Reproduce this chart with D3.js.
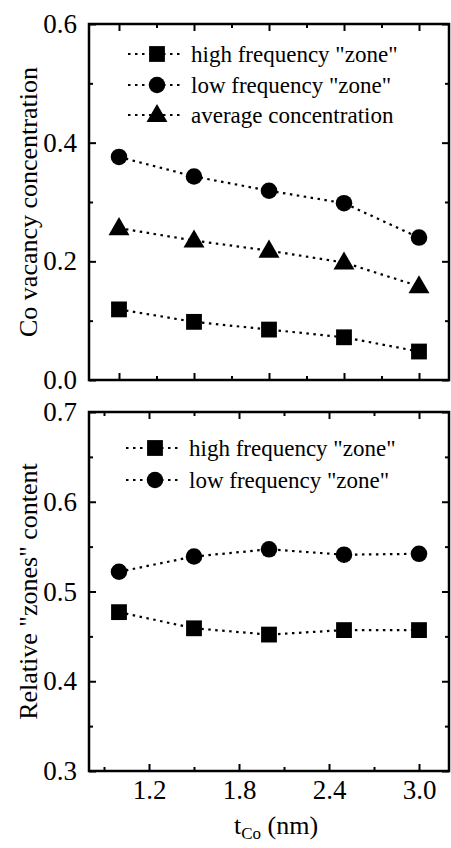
<!DOCTYPE html>
<html><head><meta charset="utf-8">
<script src="https://cdn.jsdelivr.net/npm/d3@7"></script>
<style>
@font-face { font-family: "ChartSerif"; src: local("Liberation Serif"), local("LiberationSerif"), local("Times New Roman"); }
svg text, svg tspan { font-family: "Liberation Serif", "ChartSerif", "Times New Roman", serif !important; }
</style>
</head>
<body style="margin:0">
<svg id="c" width="451" height="848" font-family="Liberation Serif, serif"></svg>
<script>
// ---- data ----
const thickness = [1.0, 1.5, 2.0, 2.5, 3.0];
const topHigh = [0.119, 0.098, 0.085, 0.072, 0.048];
const topLow = [0.376, 0.343, 0.319, 0.298, 0.240];
const topAvg = [0.256, 0.235, 0.218, 0.198, 0.158];
const botHigh = [0.477, 0.459, 0.452, 0.457, 0.457];
const botLow = [0.522, 0.539, 0.547, 0.541, 0.542];
const topYTicks = [0.0, 0.2, 0.4, 0.6];
const topYMinor = [0.1, 0.3, 0.5];
const botYTicks = [0.3, 0.4, 0.5, 0.6, 0.7];
const botYMinor = [0.35, 0.45, 0.55, 0.65];
const topXMajor = [1.0, 1.5, 2.0, 2.5, 3.0];
const topXMinor = [1.25, 1.75, 2.25, 2.75];
const botXTicks = [1.2, 1.8, 2.4, 3.0];
const botXMinor = [0.9, 1.5, 2.1, 2.7];
const legendTop = ['high frequency "zone"', 'low frequency "zone"', 'average concentration'];
const legendBot = ['high frequency "zone"', 'low frequency "zone"'];

const FONT = "'Liberation Serif', 'ChartSerif', 'Times New Roman', serif";
const svg = d3.select("#c");
const L = 89, R = 449;
const x = d3.scaleLinear().domain([0.8, 3.2]).range([L, R]);
const yTop = d3.scaleLinear().domain([0, 0.6]).range([380, 24]);
const yBot = d3.scaleLinear().domain([0.3, 0.7]).range([771, 412]);

function symbolFor(kind){
  if(kind==="square") return d3.symbol().type(d3.symbolSquare).size(250)();
  if(kind==="circle") return d3.symbol().type(d3.symbolCircle).size(215)();
  return d3.symbol().type(d3.symbolTriangle).size(190)();
}

function panel(y, yMajor, yMinor, xMajor, xMinor, showXLabels, yFmt){
  const g = svg.append("g");
  const [y0, y1] = y.range();
  const axB = d3.axisBottom(x).tickValues(xMajor).tickSize(-7).tickPadding(9).tickFormat(showXLabels ? d3.format(".1f") : () => "");
  const axBm = d3.axisBottom(x).tickValues(xMinor).tickSize(-4).tickFormat(() => "");
  const axT = d3.axisTop(x).tickValues(xMajor).tickSize(-7).tickFormat(() => "");
  const axTm = d3.axisTop(x).tickValues(xMinor).tickSize(-4).tickFormat(() => "");
  const axL = d3.axisLeft(y).tickValues(yMajor).tickSize(-7).tickPadding(12).tickFormat(yFmt);
  const axLm = d3.axisLeft(y).tickValues(yMinor).tickSize(-4).tickFormat(() => "");
  const axR = d3.axisRight(y).tickValues(yMajor).tickSize(-7).tickFormat(() => "");
  const axRm = d3.axisRight(y).tickValues(yMinor).tickSize(-4).tickFormat(() => "");
  const put = (ax, t) => {
    const a = g.append("g").attr("transform", t).call(ax);
    a.attr("font-family", "Liberation Serif").attr("font-size", 27);
    a.select(".domain").remove();
    a.selectAll("line").attr("stroke", "#000").attr("stroke-width", 2);
    a.selectAll("text").attr("fill", "#000").style("font-family", FONT, "important");
    return a;
  };
  put(axB, `translate(0,${y0})`); put(axBm, `translate(0,${y0})`);
  put(axT, `translate(0,${y1})`); put(axTm, `translate(0,${y1})`);
  put(axL, `translate(${L},0)`); put(axLm, `translate(${L},0)`);
  put(axR, `translate(${R},0)`); put(axRm, `translate(${R},0)`);
  g.append("rect").attr("x", L).attr("y", y1).attr("width", R - L).attr("height", y0 - y1)
    .attr("fill", "none").attr("stroke", "#000").attr("stroke-width", 2.5);
  return g;
}

function series(g, y, vals, kind){
  const line = d3.line().x((d, i) => x(thickness[i])).y(d => y(d));
  g.append("path").datum(vals).attr("d", line).attr("fill", "none")
    .attr("stroke", "#000").attr("stroke-width", 2.2).attr("stroke-dasharray", "2.5,4.5");
  g.selectAll(null).data(vals).enter().append("path")
    .attr("d", symbolFor(kind))
    .attr("transform", (d, i) => `translate(${x(thickness[i])},${y(d) + (kind === "triangle" ? 1 : 0)})`)
    .attr("fill", "#000");
}

function legend(g, items, kinds, x0, ys){
  items.forEach((t, i) => {
    const yy = ys[i];
    g.append("line").attr("x1", x0 - 29).attr("x2", x0 + 26).attr("y1", yy).attr("y2", yy)
      .attr("stroke", "#000").attr("stroke-width", 2.2).attr("stroke-dasharray", "2.5,4.5");
    g.append("path").attr("d", symbolFor(kinds[i])).attr("transform", `translate(${x0},${yy + (kinds[i]==="triangle"?1:0)})`).attr("fill", "#000");
    g.append("text").attr("x", x0 + 34).attr("y", yy + 8)
      .attr("font-family", "Liberation Serif").style("font-family", FONT, "important")
      .attr("font-size", 23).text(t);
  });
}

const fmt1 = d3.format(".1f");
const gTop = panel(yTop, topYTicks, topYMinor, topXMajor, topXMinor, false, fmt1);
series(gTop, yTop, topHigh, "square");
series(gTop, yTop, topLow, "circle");
series(gTop, yTop, topAvg, "triangle");
legend(gTop, legendTop, ["square", "circle", "triangle"], 157, [54, 85, 115]);

const gBot = panel(yBot, botYTicks, botYMinor, botXTicks, botXMinor, true, fmt1);
series(gBot, yBot, botHigh, "square");
series(gBot, yBot, botLow, "circle");
legend(gBot, legendBot, ["square", "circle"], 155, [448, 480]);

function title(sel){ return sel.attr("font-family", "Liberation Serif").style("font-family", FONT, "important").attr("font-size", 26); }
title(svg.append("text").attr("transform", `translate(37,${(24 + 380) / 2}) rotate(-90)`)
  .attr("text-anchor", "middle")).text("Co vacancy concentration");
title(svg.append("text").attr("transform", `translate(37,${(412 + 771) / 2}) rotate(-90)`)
  .attr("text-anchor", "middle")).text('Relative "zones" content');
const xt = title(svg.append("text").attr("x", 276).attr("y", 834).attr("text-anchor", "middle"));
xt.append("tspan").text("t");
xt.append("tspan").attr("dy", 5).attr("font-size", 17).text("Co");
xt.append("tspan").attr("dy", -5).text(" (nm)");
</script>
</body></html>
